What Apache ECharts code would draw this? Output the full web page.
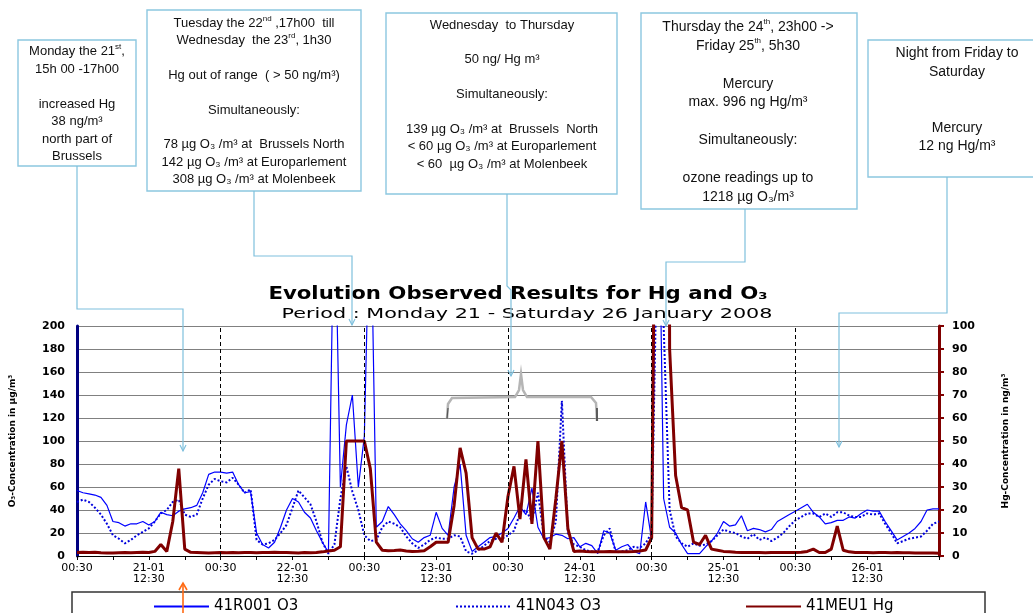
<!DOCTYPE html>
<html>
<head>
<meta charset="utf-8">
<script src="https://cdn.jsdelivr.net/npm/echarts@6/dist/echarts.min.js"></script>
<style>html,body{margin:0;padding:0;background:#fff}#c{width:1033px;height:613px}</style>
</head>
<body>
<div id="c"></div>
<script>
// ---- data (hourly, 21-01 00:30 .. 27-01 00:30) ----
const seriesNames = ['41R001 O3', '41N043 O3', '41MEU1 Hg'];
const titleText = 'Evolution Observed Results for Hg and O₃';
const subtitleText = 'Period : Monday 21 - Saturday 26 January 2008';
const categories = [];
for (let h = 0; h <= 144; h++) {
  const d = 21 + Math.floor(h / 24);
  const hh = h % 24;
  categories.push(d + '-01 ' + String(hh).padStart(2, '0') + ':30');
}
const o3_41R001 = [
  57,55,54,53,51,44,30,29,26,28,28,30,27,30,38,36,35,39,41,42,44,55,71,73,
  73,72,73,62,55,56,20,10,7,12,25,40,50,47,38,33,22,12,3,330,60,114,140,60,
  104,330,25,30,43,36,28,22,15,12,16,18,38,24,18,60,80,18,4,8,12,16,17,20,
  24,33,43,36,59,25,15,16,19,18,15,16,8,11,9,2,22,20,5,8,10,4,2,47,
  14,400,50,25,20,10,2,2,2,8,13,20,30,26,27,35,22,24,23,21,23,30,33,36,
  39,42,45,38,34,28,29,31,31,34,33,37,40,39,39,30,22,14,17,20,24,30,40,41,
  41
];
const o3_41N043 = [
  47,49,47,42,36,28,18,15,11,14,18,21,24,30,37,40,47,49,36,34,36,50,62,67,
  65,64,68,62,55,58,14,10,11,14,20,27,42,57,51,45,30,12,2,10,50,78,56,40,
  18,13,14,25,30,28,25,17,11,7,10,14,16,15,15,18,17,4,2,5,9,13,15,15,
  18,22,37,40,30,55,17,12,30,135,20,10,8,5,4,4,18,24,3,4,5,8,7,11,
  20,300,200,40,17,11,8,11,9,10,13,18,23,21,20,17,15,19,14,16,13,16,20,26,
  31,34,37,37,34,37,34,38,38,35,34,34,37,36,37,28,20,11,13,15,16,17,22,28,
  30
];
const hg_41MEU1 = [
  1.5,1.6,1.5,1.6,1.4,1.3,1.3,1.4,1.5,1.4,1.5,1.6,1.5,2,5,2,15,38,3,1.6,1.5,1.4,1.3,1.4,
  1.5,1.4,1.5,1.4,1.5,1.5,1.4,1.5,1.5,1.6,1.5,1.5,1.4,1.3,1.5,1.4,1.5,1.8,2.2,2.5,4,50,50,50,
  50,38,6,2.5,2.3,2.4,2.6,2.2,2,2.1,2.3,4,6,6,6,22,47,36,8,3,3,4,10,6,
  26,39,16,42,14,50,8,3,25,50,12,2,2.2,2,1.9,1.8,1.9,2,1.9,1.8,1.9,2,2.2,2.6,
  8,300,996,90,35,21,20,6,5,9,3,2.5,2,1.8,1.6,1.5,1.5,1.5,1.5,1.4,1.5,1.5,1.5,1.5,
  1.5,1.6,2,3,1.5,1.5,3,13,2.5,1.8,1.5,1.5,1.5,1.4,1.5,1.5,1.4,1.5,1.4,1.4,1.3,1.3,1.3,1.3,
  1.2
];
const o3Ticks = { min: 0, max: 200, interval: 20 };
const hgTicks = { min: 0, max: 100, interval: 10 };
const midnightLines = ['22-01 00:30', '23-01 00:30', '24-01 00:30', '25-01 00:30', '26-01 00:30'];

// ---- annotations ----
const BOXC = '#8cc7e0';
const LINEC = '#7fc0dd';
const annotations = [
  { rect: [18, 40, 118, 126], cx: 77, top: 43, size: 13, lh: 17.5,
    lines: ['Monday the 21{s|st},', '15h 00 -17h00', '', 'increased Hg', '38 ng/m³', 'north part of', 'Brussels'] },
  { rect: [147, 10, 214, 181], cx: 254, top: 14.5, size: 13, lh: 17.35,
    lines: ['Tuesday the 22{s|nd} ,17h00  till', 'Wednesday  the 23{s|rd}, 1h30', '', 'Hg out of range  ( > 50 ng/m³)', '', 'Simultaneously:', '', '78 µg O₃ /m³ at  Brussels North', '142 µg O₃ /m³ at Europarlement', '308 µg O₃ /m³ at Molenbeek'] },
  { rect: [386, 13, 231, 181], cx: 502, top: 16.3, size: 13, lh: 17.4,
    lines: ['Wednesday  to Thursday', '', '50 ng/ Hg m³', '', 'Simultaneously:', '', '139 µg O₃ /m³ at  Brussels  North', '< 60 µg O₃ /m³ at Europarlement', '< 60  µg O₃ /m³ at Molenbeek'] },
  { rect: [641, 13, 216, 196], cx: 748, top: 17.5, size: 14, lh: 18.9,
    lines: ['Thursday the 24{s|th}, 23h00 ->', 'Friday 25{s|th}, 5h30', '', 'Mercury', 'max. 996 ng Hg/m³', '', 'Simultaneously:', '', 'ozone readings up to', '1218 µg O₃/m³'] },
  { rect: [868, 40, 180, 137], cx: 957, top: 43.7, size: 14, lh: 18.7,
    lines: ['Night from Friday to', 'Saturday', '', '', 'Mercury', '12 ng Hg/m³'] }
];
const connectors = [
  [[77, 166], [77, 309], [183, 309], [183, 451]],
  [[254, 191], [254, 256], [352, 256], [352, 325]],
  [[507, 194], [507, 286], [511, 290], [511, 376]],
  [[745, 209], [745, 262], [666, 262], [666, 326]],
  [[947, 177], [947, 313], [839, 313], [839, 447]]
];

const graphic = [];
// title (stretched horizontally like the original)
graphic.push({ type: 'text', z: 50, x: 518, y: 295, scaleX: 1.25,
  style: { text: titleText, fontFamily: 'DejaVu Sans', fontWeight: 'bold', fontSize: 17, fill: '#000', textAlign: 'center', textVerticalAlign: 'middle' } });
graphic.push({ type: 'text', z: 50, x: 527, y: 314, scaleX: 1.48,
  style: { text: subtitleText, fontFamily: 'DejaVu Sans', fontSize: 14, fill: '#000', textAlign: 'center', textVerticalAlign: 'middle' } });
annotations.forEach(a => {
  graphic.push({ type: 'rect', z: 100, shape: { x: a.rect[0], y: a.rect[1], width: a.rect[2], height: a.rect[3] },
    style: { fill: '#fff', stroke: BOXC, lineWidth: 1.4 } });
  graphic.push({ type: 'text', z: 101, x: a.cx, y: a.top,
    style: { text: a.lines.join('\n'), fontSize: a.size, fontFamily: 'Liberation Sans', fill: '#111',
      textAlign: 'center', textVerticalAlign: 'top', lineHeight: a.lh,
      rich: { s: { fontSize: Math.round(a.size * 0.6), fontFamily: 'Liberation Sans', fill: '#111', verticalAlign: 'top', lineHeight: a.lh * 0.75 } } } });
});
connectors.forEach(p => {
  graphic.push({ type: 'polyline', z: 100, shape: { points: p }, style: { stroke: LINEC, lineWidth: 1.2, fill: null } });
  const e = p[p.length - 1];
  graphic.push({ type: 'polyline', z: 100, shape: { points: [[e[0] - 3, e[1] - 6], e, [e[0] + 3, e[1] - 6]] }, style: { stroke: LINEC, lineWidth: 1.2, fill: null } });
});
// bracket
graphic.push({ type: 'polyline', z: 99, shape: { points: [[447, 419], [448, 404], [452, 398], [515, 397], [519, 390], [521, 374], [523, 390], [527, 397], [591, 397], [596, 403], [597, 421]] },
  style: { stroke: '#b5b5b5', lineWidth: 2.5, fill: null } });
graphic.push({ type: 'polyline', z: 99, shape: { points: [[447, 419], [448, 408]] }, style: { stroke: '#555', lineWidth: 1.2, fill: null } });
graphic.push({ type: 'polyline', z: 99, shape: { points: [[597, 421], [597, 408]] }, style: { stroke: '#444', lineWidth: 1.6, fill: null } });
// legend box
graphic.push({ type: 'rect', z: 0, shape: { x: 72, y: 592, width: 913, height: 40 }, style: { fill: '#fff', stroke: '#333', lineWidth: 1.5 } });
// orange arrow
graphic.push({ type: 'polyline', z: 120, shape: { points: [[183, 613], [183, 583]] }, style: { stroke: '#ff6a13', lineWidth: 1.6, fill: null } });
graphic.push({ type: 'polyline', z: 120, shape: { points: [[179, 590], [183, 583], [187, 590]] }, style: { stroke: '#ff6a13', lineWidth: 1.6, fill: null } });

const chart = echarts.init(document.getElementById('c'), null, { renderer: 'canvas' });
const legendBase = { top: 594, itemWidth: 55, itemHeight: 14, itemGap: 5,
  itemStyle: { opacity: 0, borderWidth: 0 },
  textStyle: { fontSize: 15, fontFamily: 'DejaVu Sans', color: '#000' } };
chart.setOption({
  animation: false,
  backgroundColor: '#fff',
  legend: [
    Object.assign({ data: [seriesNames[0]], left: 148 }, legendBase),
    Object.assign({ data: [seriesNames[1]], left: 450 }, legendBase),
    Object.assign({ data: [seriesNames[2]], left: 740 }, legendBase)
  ],
  grid: { left: 77, right: 94, top: 326, bottom: 57, containLabel: false },
  xAxis: {
    type: 'category', data: categories, boundaryGap: false,
    axisLine: { lineStyle: { color: '#000', width: 1 } },
    axisTick: { interval: 5, length: 4, lineStyle: { color: '#000' } },
    axisLabel: {
      interval: (i) => i % 12 === 0 && i !== 144,
      formatter: (v, i) => (i % 24 === 0 ? '00:30' : v.slice(0, 5) + '\n12:30'),
      color: '#000', fontFamily: 'DejaVu Sans', fontSize: 11, lineHeight: 11, margin: 7
    },
    splitLine: { show: false }
  },
  yAxis: [
    {
      type: 'value', min: o3Ticks.min, max: o3Ticks.max, interval: o3Ticks.interval, position: 'left',
      name: 'O₃-Concentration in µg/m³', nameLocation: 'middle', nameGap: 60, nameRotate: 90,
      nameTextStyle: { fontFamily: 'DejaVu Sans', fontWeight: 'bold', fontSize: 9, color: '#000' },
      axisLine: { show: true, lineStyle: { color: '#000080', width: 3 } },
      axisTick: { show: false },
      axisLabel: { color: '#000', fontWeight: 'bold', fontFamily: 'DejaVu Sans', fontSize: 11, margin: 12 },
      splitLine: { show: true, lineStyle: { color: '#808080', width: 1 } }
    },
    {
      type: 'value', min: hgTicks.min, max: hgTicks.max, interval: hgTicks.interval, position: 'right',
      name: 'Hg-Concentration in ng/m³', nameLocation: 'middle', nameGap: 62, nameRotate: 90,
      nameTextStyle: { fontFamily: 'DejaVu Sans', fontWeight: 'bold', fontSize: 9, color: '#000' },
      axisLine: { show: true, lineStyle: { color: '#800000', width: 3 } },
      axisTick: { show: true, length: 5, lineStyle: { color: '#800000', width: 2 } },
      axisLabel: { color: '#000', fontWeight: 'bold', fontFamily: 'DejaVu Sans', fontSize: 11, margin: 13 },
      splitLine: { show: false }
    }
  ],
  series: [
    {
      name: seriesNames[0], type: 'line', data: o3_41R001, yAxisIndex: 0, symbol: 'none', clip: true,
      lineStyle: { color: '#0000ff', width: 1.2 }, itemStyle: { color: '#0000ff' }, z: 3,
      markLine: {
        silent: true, symbol: 'none', label: { show: false },
        lineStyle: { color: '#000', type: [4, 3], width: 1 },
        data: midnightLines.map(c => ({ xAxis: c }))
      }
    },
    {
      name: seriesNames[1], type: 'line', data: o3_41N043, yAxisIndex: 0, symbol: 'none', clip: true,
      lineStyle: { color: '#0000dd', width: 2, type: [2, 2] }, itemStyle: { color: '#0000dd' }, z: 2
    },
    {
      name: seriesNames[2], type: 'line', data: hg_41MEU1, yAxisIndex: 1, symbol: 'none', clip: true,
      lineStyle: { color: '#800000', width: 3 }, itemStyle: { color: '#800000' }, z: 4
    }
  ],
  graphic: graphic
});
</script>
</body>
</html>
